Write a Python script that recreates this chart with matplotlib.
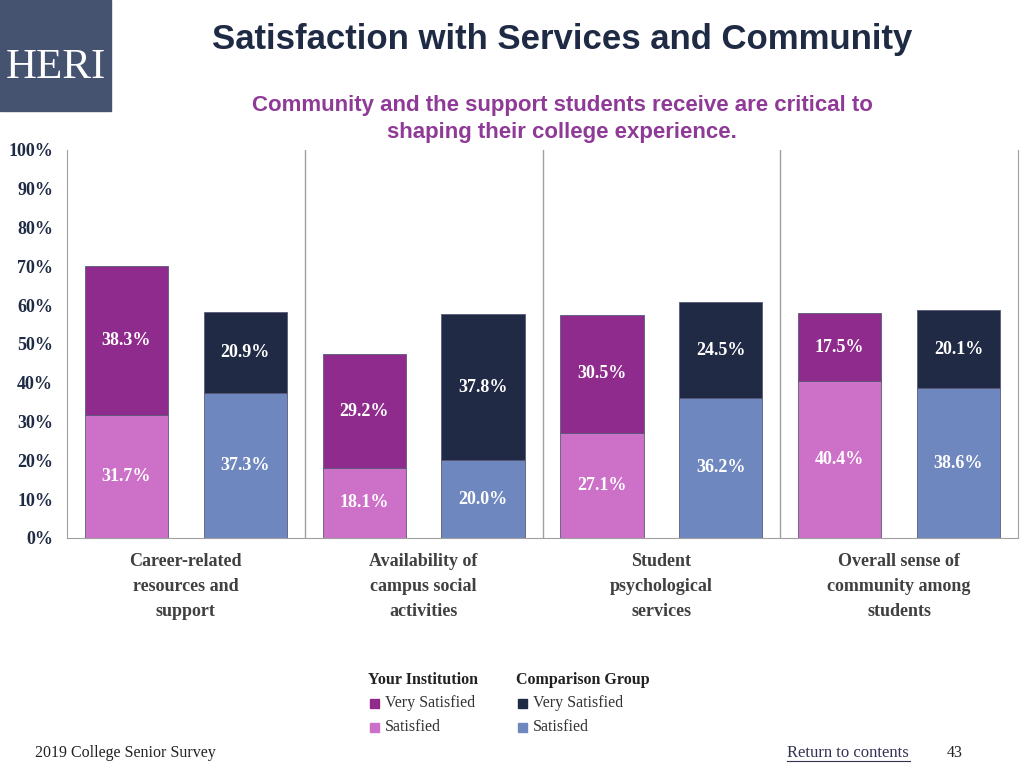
import numpy as np
import matplotlib.pyplot as plt
from matplotlib.patches import Rectangle

categories = ["Career-related\nresources and\nsupport",
              "Availability of\ncampus social\nactivities",
              "Student\npsychological\nservices",
              "Overall sense of\ncommunity among\nstudents"]
inst_satisfied = [31.7, 18.1, 27.1, 40.4]
inst_very = [38.3, 29.2, 30.5, 17.5]
comp_satisfied = [37.3, 20.0, 36.2, 38.6]
comp_very = [20.9, 37.8, 24.5, 20.1]
yticks = [0, 10, 20, 30, 40, 50, 60, 70, 80, 90, 100]

c_inst_very = '#8E2B8C'
c_inst_sat = '#CD70C8'
c_comp_very = '#202A45'
c_comp_sat = '#6E87BE'
navy = '#1F2A44'
serif = ['Liberation Serif', 'DejaVu Serif']
sans = ['Liberation Sans Narrow', 'Liberation Sans', 'DejaVu Sans']

fig = plt.figure(figsize=(10.24, 7.68), dpi=100)
ax = fig.add_axes([67 / 1024, 1 - 538 / 768, 951 / 1024, 388 / 768])

x = np.arange(len(categories))
w = 0.35
off = 0.25
edge = dict(edgecolor='#5a5a7a', linewidth=0.6)
ax.bar(x - off, inst_satisfied, w, color=c_inst_sat, **edge)
ax.bar(x - off, inst_very, w, bottom=inst_satisfied, color=c_inst_very, **edge)
ax.bar(x + off, comp_satisfied, w, color=c_comp_sat, **edge)
ax.bar(x + off, comp_very, w, bottom=comp_satisfied, color=c_comp_very, **edge)

lab = dict(ha='center', va='center', color='white', fontsize=13,
           fontweight='bold', family=serif)
for i in range(len(categories)):
    ax.text(x[i] - off, inst_satisfied[i] / 2, f"{inst_satisfied[i]:.1f}%", **lab)
    ax.text(x[i] - off, inst_satisfied[i] + inst_very[i] / 2, f"{inst_very[i]:.1f}%", **lab)
    ax.text(x[i] + off, comp_satisfied[i] / 2, f"{comp_satisfied[i]:.1f}%", **lab)
    ax.text(x[i] + off, comp_satisfied[i] + comp_very[i] / 2, f"{comp_very[i]:.1f}%", **lab)

ax.set_xlim(-0.5, len(categories) - 0.5)
ax.set_ylim(0, 100)
for b in np.arange(0.5, len(categories) - 0.5, 1):
    ax.axvline(b, color='#a0a0a0', linewidth=1)
for s in ['left', 'right', 'bottom']:
    ax.spines[s].set_color('#a0a0a0')
ax.spines['top'].set_visible(False)
ax.set_yticks(yticks)
ax.set_yticklabels([f"{v}%" for v in yticks], fontsize=13, fontweight='bold',
                   family=serif, color=navy)
ax.tick_params(axis='y', length=0, pad=10)
ax.set_xticks(x)
ax.set_xticklabels(categories, fontsize=13, fontweight='bold', family=serif,
                   color='#404040', linespacing=1.6)
ax.tick_params(axis='x', length=0, pad=11)

# HERI logo block
fig.patches.append(Rectangle((0, 1 - 111 / 768), 111 / 1024, 111 / 768,
                             transform=fig.transFigure, color='#455270'))
fig.text(56 / 1024, 1 - 68 / 768, "HERI", ha='center', va='center', color='white',
         fontsize=31, family=serif)

fig.text(562 / 1024, 1 - 40 / 768, "Satisfaction with Services and Community",
         ha='center', va='center', fontsize=25, fontweight='bold', family=sans, color=navy)
fig.text(562 / 1024, 1 - 119 / 768,
         "Community and the support students receive are critical to\nshaping their college experience.",
         ha='center', va='center', fontsize=16, fontweight='bold', family=sans,
         color='#8E3A96', linespacing=1.35)

# legend
for txt, lx in [("Your Institution", 368), ("Comparison Group", 516)]:
    fig.text(lx / 1024, 1 - 680 / 768, txt, ha='left', va='center', fontsize=11.5,
             fontweight='bold', family=serif, color='#222222')
items = [(370, 703, c_inst_very, "Very Satisfied"), (370, 727, c_inst_sat, "Satisfied"),
         (518, 703, c_comp_very, "Very Satisfied"), (518, 727, c_comp_sat, "Satisfied")]
for lx, ly, col, txt in items:
    fig.patches.append(Rectangle((lx / 1024, 1 - (ly + 4.5) / 768), 9 / 1024, 9 / 768,
                                 transform=fig.transFigure, color=col))
    fig.text((lx + 15) / 1024, 1 - ly / 768, txt, ha='left', va='center', fontsize=11.5,
             family=serif, color='#333333')

# footer
fig.text(35 / 1024, 1 - 753 / 768, "2019 College Senior Survey", ha='left', va='center',
         fontsize=11.5, family=serif, color='#222222')
fig.text(787 / 1024, 1 - 753 / 768, "Return to contents", ha='left', va='center',
         fontsize=12, family=serif, color='#333355')
fig.lines.append(plt.Line2D([787 / 1024, 910 / 1024], [1 - 761 / 768, 1 - 761 / 768],
                            transform=fig.transFigure, color='#333355', linewidth=0.8))
fig.text(955 / 1024, 1 - 753 / 768, "43", ha='center', va='center',
         fontsize=11.5, family=serif, color='#222222')

fig.savefig('out.png', dpi=100)
